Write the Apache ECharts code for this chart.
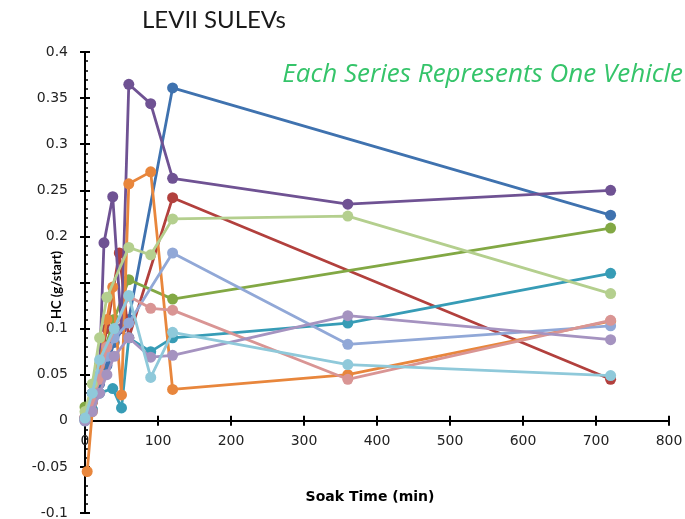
<!DOCTYPE html>
<html>
<head>
<meta charset="utf-8">
<script src="https://cdn.jsdelivr.net/npm/echarts@6/dist/echarts.min.js"></script>
<style>
  html, body { margin: 0; padding: 0; background: #fff; }
  #chart { width: 685px; height: 519px; }
</style>
</head>
<body>
<div id="chart"></div>
<script>
// Hydrocarbon emissions per start vs. soak time, one series per vehicle: [soak min, g/start]
const vehicle1 = [[0, 0.002], [10, 0.012], [20, 0.04], [30, 0.06], [40, 0.085], [60, 0.11], [120, 0.361], [720, 0.223]];
const vehicle2 = [[0, 0.004], [10, 0.02], [20, 0.06], [30, 0.1], [47, 0.182], [60, 0.09], [120, 0.242], [720, 0.045]];
const vehicle3 = [[0, 0.015], [10, 0.02], [20, 0.06], [40, 0.11], [60, 0.153], [120, 0.132], [720, 0.209]];
const vehicle4 = [[0, 0.003], [10, 0.03], [20, 0.06], [26, 0.193], [38, 0.243], [50, 0.1], [60, 0.365], [90, 0.344], [120, 0.263], [360, 0.235], [720, 0.25]];
const vehicle5 = [[0, 0.0], [10, 0.012], [20, 0.03], [38, 0.035], [50, 0.014], [60, 0.09], [90, 0.075], [120, 0.09], [360, 0.106], [720, 0.16]];
const vehicle6 = [[3, -0.055], [10, 0.01], [20, 0.06], [30, 0.11], [38, 0.145], [50, 0.028], [60, 0.257], [90, 0.27], [120, 0.034], [360, 0.05], [720, 0.108]];
const vehicle7 = [[0, 0.0], [10, 0.03], [20, 0.05], [30, 0.07], [40, 0.09], [60, 0.106], [120, 0.182], [360, 0.083], [720, 0.103]];
const vehicle8 = [[0, 0.002], [10, 0.02], [20, 0.045], [30, 0.08], [60, 0.135], [90, 0.122], [120, 0.12], [360, 0.045], [720, 0.109]];
const vehicle9 = [[0, 0.01], [10, 0.04], [20, 0.09], [30, 0.134], [60, 0.188], [90, 0.18], [120, 0.219], [360, 0.222], [720, 0.138]];
const vehicle10 = [[0, 0.0], [10, 0.01], [20, 0.03], [30, 0.05], [40, 0.07], [60, 0.09], [90, 0.069], [120, 0.071], [360, 0.114], [720, 0.088]];
const vehicle11 = [[0, 0.003], [10, 0.03], [20, 0.066], [40, 0.1], [60, 0.136], [90, 0.047], [120, 0.096], [360, 0.061], [720, 0.049]];

const vehicles = [vehicle1, vehicle2, vehicle3, vehicle4, vehicle5, vehicle6, vehicle7, vehicle8, vehicle9, vehicle10, vehicle11];
const palette = ['#3F72AF', '#B2403D', '#82A844', '#6F5293', '#379CB6', '#E8863C',
                 '#91A8D7', '#D99594', '#B4CF8E', '#A593C0', '#8FC9DA'];

const titleText = 'LEVII SULEVs';
const noteText = 'Each Series Represents One Vehicle';
const xName = 'Soak Time (min)';
const yName = 'HC (g/start)';

const X_MIN = 0, X_MAX = 800, X_STEP = 100;
const Y_MIN = -0.1, Y_MAX = 0.4, Y_STEP = 0.05;
// tick value sitting under the vertical axis title, left unlabelled
const Y_TICK_UNDER_TITLE = 0.15;

const W = 685, H = 519;
const gridBox = { left: 85, right: 16, top: 52, bottom: 6 };
const plotH = H - gridBox.top - gridBox.bottom;
// the horizontal axis crosses at HC = 0, so lift it off the bottom edge
const zeroLift = -plotH * (0 - Y_MIN) / (Y_MAX - Y_MIN);

const labelFont = '"DejaVu Sans", sans-serif';
const axisBlack = '#000';

const chart = echarts.init(document.getElementById('chart'), null, { renderer: 'canvas' });

const baseX = {
  type: 'value', min: X_MIN, max: X_MAX, interval: X_STEP, position: 'bottom', offset: zeroLift,
  axisLine: { show: true, onZero: false, lineStyle: { color: axisBlack, width: 2 } },
  splitLine: { show: false }
};
const baseY = {
  type: 'value', min: Y_MIN, max: Y_MAX, interval: Y_STEP, position: 'left',
  axisLine: { show: true, onZero: false, lineStyle: { color: axisBlack, width: 2 } },
  splitLine: { show: false }
};

chart.setOption({
  animation: false,
  backgroundColor: '#fff',
  grid: Object.assign({ containLabel: false, outerBoundsMode: 'none' }, gridBox),
  graphic: [
    { type: 'text', x: 142, y: 8,
      style: { text: titleText, font: '24px Lato, sans-serif', fill: '#1a1a1a' } },
    { type: 'text', x: 683, y: 62,
      style: { text: noteText, font: 'italic 26px "Open Sans", sans-serif', fill: '#35C46A', align: 'right' } },
    { type: 'text', x: 370, y: 497,
      style: { text: xName, font: 'bold 14px ' + labelFont, fill: '#000', align: 'center', verticalAlign: 'middle' } },
    { type: 'text', x: 57, y: 285, rotation: Math.PI / 2,
      style: { text: yName, font: 'bold 13px Lato, sans-serif', fill: '#000', align: 'center', verticalAlign: 'middle' } }
  ],
  xAxis: [
    Object.assign({}, baseX, {
      axisTick: { show: true, inside: false, length: 5, lineStyle: { color: axisBlack, width: 2 } },
      axisLabel: { show: true, margin: 14, color: '#222', fontSize: 14, fontFamily: labelFont }
    }),
    Object.assign({}, baseX, {
      axisTick: { show: true, inside: true, length: 5, lineStyle: { color: axisBlack, width: 2 } },
      axisLabel: { show: false }
    })
  ],
  yAxis: [
    Object.assign({}, baseY, {
      axisTick: { show: true, inside: false, length: 5, lineStyle: { color: axisBlack, width: 2 } },
      axisLabel: {
        show: true, margin: 17, color: '#222', fontSize: 14, fontFamily: labelFont,
        formatter: v => {
          const r = Number(v.toFixed(2));
          return r === Y_TICK_UNDER_TITLE ? '' : String(r);
        }
      }
    }),
    Object.assign({}, baseY, {
      axisTick: { show: true, inside: true, length: 5, lineStyle: { color: axisBlack, width: 2 } },
      minorTick: { show: true, splitNumber: 5, length: 3, lineStyle: { color: axisBlack, width: 1.5 } },
      axisLabel: { show: false }
    })
  ],
  series: vehicles.map((pts, i) => ({
    type: 'line',
    name: 'Vehicle ' + (i + 1),
    data: pts,
    xAxisIndex: 0,
    yAxisIndex: 0,
    symbol: 'circle',
    symbolSize: 11,
    lineStyle: { color: palette[i], width: 2.8 },
    itemStyle: { color: palette[i], borderWidth: 0 },
    z: 2 + i * 0.01
  }))
});
</script>
</body>
</html>
